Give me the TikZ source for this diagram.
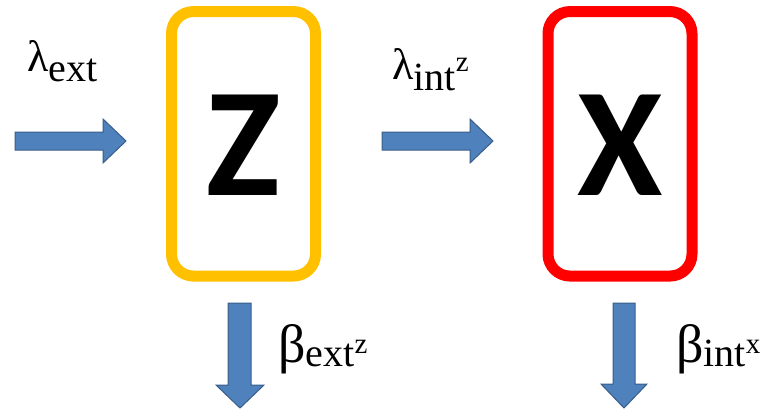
\documentclass[tikz,border=0pt]{standalone}
\usepackage{fontspec}
\setmainfont{Liberation Serif}
\newfontfamily\labfont{Liberation Serif}
\newfontfamily\letterfont{Carlito}
\definecolor{zorange}{HTML}{FFC000}
\definecolor{xred}{HTML}{FF0000}
\definecolor{afill}{HTML}{4F81BD}
\definecolor{aline}{HTML}{385D8A}
\tikzset{
  statebox/.style={line width=11pt, rounded corners=22pt, minimum width=144pt,
    minimum height=264.5pt, inner sep=0pt,
    font=\letterfont\bfseries\fontsize{155}{155}\selectfont,
    text height=104pt, text depth=0pt},
  blockarrow/.style={fill=afill, draw=aline, line width=1pt, line join=miter},
  lab/.style={inner sep=0pt, anchor=base west, text=black, font=\labfont},
}
\newcommand{\gsz}[1]{\fontsize{#1}{#1}\selectfont}
\begin{document}
\begin{tikzpicture}[x=1pt, y=-1pt]
\useasboundingbox (0,0) rectangle (766,412);
% boxes
\node[statebox, draw=zorange] (Z) at (243.5,143.8) {Z};
\node[statebox, draw=xred] (X) at (620,143.8) {X};
% horizontal block arrows
\draw[blockarrow] (15,132) -- (103,132) -- (103,119) -- (126,141) -- (103,163) -- (103,150) -- (15,150) -- cycle;
\draw[blockarrow] (382,132) -- (470,132) -- (470,119) -- (493,141) -- (470,163) -- (470,150) -- (382,150) -- cycle;
% vertical block arrows
\draw[blockarrow] (228,303) -- (251,303) -- (251,385) -- (264,385) -- (240,408) -- (216,385) -- (228,385) -- cycle;
\draw[blockarrow] (613,303) -- (635,303) -- (635,384) -- (647,384) -- (624,408) -- (601,384) -- (613,384) -- cycle;
% labels
\node[lab] (lext) at (27,71) {\gsz{44}λ\raisebox{-10pt}{\gsz{40}ext}};
\node[lab] (lint) at (392,80) {\gsz{44}λ\raisebox{-10pt}{\gsz{40}int}\raisebox{9pt}{\gsz{29}z}};
\node[lab] (bext) at (278,362) {\gsz{54}β\raisebox{-4pt}{\gsz{40}ext}\raisebox{9pt}{\gsz{29}z}};
\node[lab] (bint) at (676,362) {\gsz{54}β\raisebox{-4pt}{\gsz{40}int}\raisebox{9pt}{\gsz{29}x}};
\end{tikzpicture}
\end{document}
